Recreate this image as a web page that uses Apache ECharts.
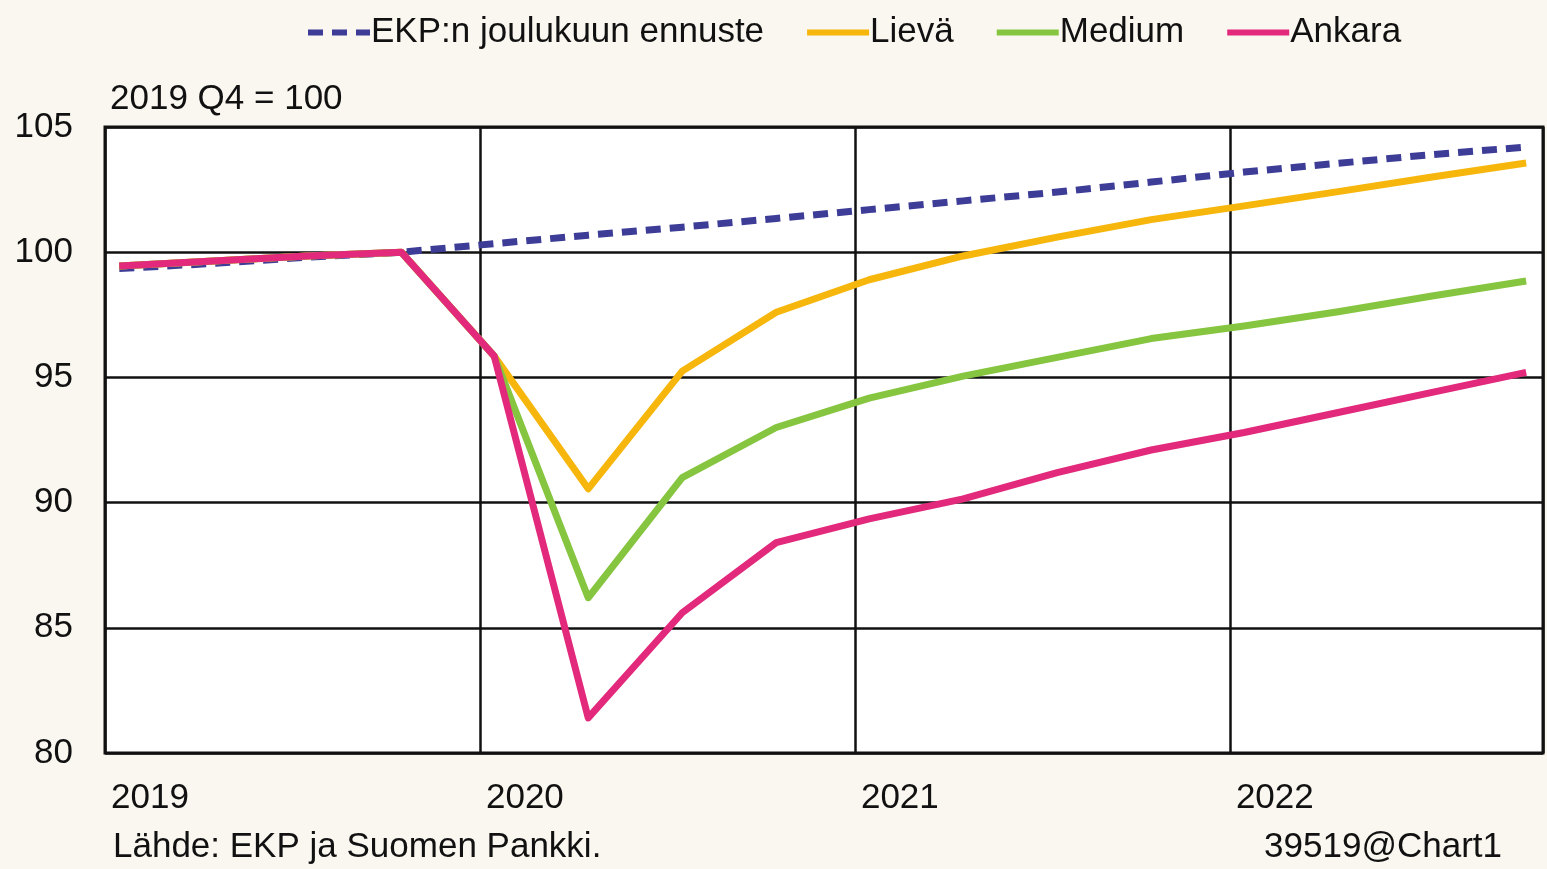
<!DOCTYPE html>
<html>
<head>
<meta charset="utf-8">
<script src="https://cdn.jsdelivr.net/npm/echarts@6/dist/echarts.min.js"></script>
<style>
  html, body { margin: 0; padding: 0; background: #faf6f0; }
  #chart { width: 1547px; height: 869px; }
</style>
</head>
<body>
<div id="chart"></div>
<script>
// ---- Data ----
const quarters = ['2019Q1','2019Q2','2019Q3','2019Q4','2020Q1','2020Q2','2020Q3','2020Q4',
                  '2021Q1','2021Q2','2021Q3','2021Q4','2022Q1','2022Q2','2022Q3','2022Q4'];
const ekpForecast = [99.35, 99.55, 99.8, 100.0, 100.34, 100.68, 101.0, 101.35,
                     101.7, 102.05, 102.4, 102.8, 103.2, 103.55, 103.9, 104.2];
const lieva  = [99.45, 99.65, 99.85, 100.0, 95.85, 90.55, 95.25, 97.6,
                98.9, 99.85, 100.6, 101.3, 101.85, 102.42, 103.0, 103.56];
const medium = [99.45, 99.65, 99.85, 100.0, 95.85, 86.2, 91.0, 93.0,
                94.17, 95.05, 95.8, 96.55, 97.05, 97.62, 98.25, 98.85];
const ankara = [99.45, 99.65, 99.85, 100.0, 95.85, 81.4, 85.6, 88.4,
                89.35, 90.15, 91.2, 92.1, 92.8, 93.6, 94.4, 95.2];
const seriesNames = ['EKP:n joulukuun ennuste', 'Lievä', 'Medium', 'Ankara'];
const yearTicks = [2019, 2020, 2021, 2022];
const yTicks = [80, 85, 90, 95, 100, 105];
const subtitleText = '2019 Q4 = 100';
const sourceText = 'Lähde: EKP ja Suomen Pankki.';
const codeText = '39519@Chart1';

// quarter label -> position on a year axis (points sit just after quarter start)
function qPos(label) {
  const y = parseInt(label.slice(0, 4), 10);
  const q = parseInt(label.slice(5), 10);
  return y + (q - 1) * 0.2507 + 0.038;
}
function pairs(vals) { return quarters.map((q, i) => [qPos(q), vals[i]]); }

const FONT = 'Liberation Sans, Arial, sans-serif';
const chart = echarts.init(document.getElementById('chart'), null, { renderer: 'canvas' });

const colors = ['#3d3d98', '#f6b60c', '#86c540', '#e2297c'];

function lineSeries(name, vals, color, dashed) {
  return {
    name: name,
    type: 'line',
    data: pairs(vals),
    symbol: 'circle',
    symbolSize: 0,
    showSymbol: false,
    smooth: false,
    lineStyle: { color: color, width: 7, type: dashed ? [15, 9] : 'solid', cap: 'butt', join: 'round' },
    itemStyle: { color: color },
    emphasis: { disabled: true },
    animation: false
  };
}

chart.setOption({
  backgroundColor: '#faf6f0',
  animation: false,
  textStyle: { fontFamily: FONT },
  legend: {
    top: 10,
    left: 300,
    itemWidth: 62,
    itemHeight: 14,
    itemGap: 40,
    itemStyle: { opacity: 0, borderWidth: 0 },
    lineStyle: { width: 6 },
    textStyle: { fontFamily: FONT, fontSize: 35, color: '#111', padding: [0, 0, 0, -4] },
    data: seriesNames
  },
  grid: {
    left: 105, right: 4, top: 127, bottom: 116,
    show: true, backgroundColor: '#ffffff', borderColor: '#111', borderWidth: 3
  },
  xAxis: {
    type: 'value',
    min: 2019,
    max: 2022.835,
    interval: 1,
    axisLine: { show: false },
    axisTick: { show: false },
    splitLine: { show: true, lineStyle: { color: '#111', width: 2.5 } },
    axisLabel: {
      fontFamily: FONT, fontSize: 35, color: '#111',
      align: 'left', margin: 28, padding: [0, 0, 0, 6],
      showMaxLabel: false,
      formatter: v => (yearTicks.indexOf(v) >= 0 ? String(v) : '')
    }
  },
  yAxis: {
    type: 'value',
    min: 80, max: 105, interval: 5,
    axisLine: { show: false },
    axisTick: { show: false },
    splitLine: { show: true, lineStyle: { color: '#111', width: 2.5 } },
    axisLabel: {
      fontFamily: FONT, fontSize: 35, color: '#111', margin: 32,
      formatter: v => (yTicks.indexOf(v) >= 0 ? String(v) : '')
    }
  },
  graphic: [
    { type: 'text', left: 110, top: 82, style: { text: subtitleText, font: '35px ' + FONT, fill: '#111' } },
    { type: 'text', left: 113, top: 830, style: { text: sourceText, font: '35px ' + FONT, fill: '#111' } },
    { type: 'text', right: 45, top: 830, style: { text: codeText, font: '35px ' + FONT, fill: '#111' } }
  ],
  series: [
    lineSeries(seriesNames[0], ekpForecast, colors[0], true),
    lineSeries(seriesNames[1], lieva, colors[1], false),
    lineSeries(seriesNames[2], medium, colors[2], false),
    lineSeries(seriesNames[3], ankara, colors[3], false)
  ]
});
</script>
</body>
</html>
